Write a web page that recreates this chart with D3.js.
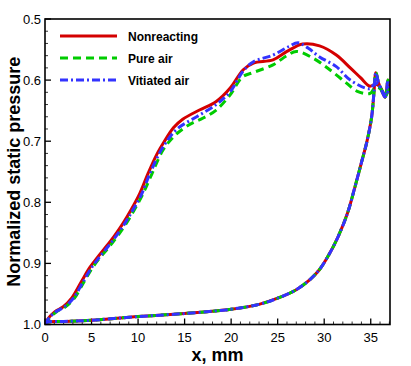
<!DOCTYPE html>
<html>
<head>
<meta charset="utf-8">
<script src="https://cdn.jsdelivr.net/npm/d3@7"></script>
<style>
  body { margin: 0; background: #fff; }
  text { font-family: "Liberation Sans", Arial, sans-serif; }
</style>
</head>
<body>
<div id="viz"></div>
<script>
var w = 411, h = 366;

// series: upper surface (x, p) from leading to trailing edge
var redUpper = [[0,1.0],[0.35,0.99],[1.07,0.979],[1.96,0.971],[2.86,0.957],[3.9,0.93],[4.8,0.907],[5.7,0.889],[6.6,0.872],[7.5,0.854],[8.4,0.834],[9.3,0.811],[10.2,0.785],[11.1,0.752],[12.0,0.722],[12.8,0.701],[13.8,0.678],[14.8,0.664],[16.6,0.649],[18.4,0.635],[19.9,0.613],[21.3,0.583],[22.4,0.572],[24.5,0.567],[26.0,0.553],[27.7,0.541],[29.5,0.544],[31.3,0.559],[32.8,0.580],[33.9,0.596],[34.9,0.610],[35.5,0.607],[36.0,0.611],[36.55,0.625],[37,0.61]];
var greenUpper = [[0,1.0],[0.45,0.99],[1.25,0.979],[2.2,0.971],[3.15,0.957],[4.2,0.93],[5.1,0.907],[6.0,0.889],[6.95,0.872],[7.85,0.854],[8.75,0.834],[9.65,0.811],[10.5,0.787],[11.5,0.753],[12.7,0.714],[14.0,0.69],[15.5,0.673],[17.0,0.662],[18.4,0.649],[19.9,0.624],[21.2,0.595],[22.3,0.588],[24.5,0.575],[26.0,0.56],[27.0,0.553],[28.8,0.564],[30.6,0.583],[32.4,0.605],[33.5,0.618],[34.9,0.622],[35.5,0.612],[36.1,0.615],[36.55,0.627],[37,0.61]];
var blueUpper = [[0,1.0],[0.4,0.99],[1.17,0.979],[2.1,0.971],[3.05,0.957],[4.1,0.93],[5.0,0.907],[5.9,0.889],[6.8,0.872],[7.7,0.854],[8.6,0.834],[9.5,0.811],[10.4,0.786],[11.3,0.752],[12.7,0.709],[14.2,0.68],[16.3,0.66],[18.4,0.64],[19.9,0.619],[21.3,0.585],[22.4,0.570],[24.5,0.559],[26.2,0.545],[27.2,0.539],[28.3,0.548],[29.5,0.562],[31.3,0.578],[32.8,0.600],[34.9,0.614],[35.5,0.605],[36.1,0.613],[36.55,0.627],[37,0.61]];
// lower surface, same for all three runs
var lower = [[0,1.0],[0.3,0.996],[2,0.995],[5,0.993],[10,0.987],[15,0.982],[20,0.975],[23,0.967],[25,0.957],[27,0.943],[28.5,0.926],[29.5,0.91],[30.5,0.886],[31.5,0.856],[32.5,0.818],[33.3,0.775],[34,0.735],[34.6,0.70],[35.1,0.66],[35.35,0.62],[35.55,0.588],[35.85,0.605],[36.2,0.618],[36.55,0.628],[36.85,0.600],[37,0.61]];

var names = ["Nonreacting", "Pure air", "Vitiated air"];
var xTicks = [0, 5, 10, 15, 20, 25, 30, 35];
var yTicks = [0.5, 0.6, 0.7, 0.8, 0.9, 1.0];

var series = [
  {name: names[0], upper: redUpper, color: "#d40000", dash: null},
  {name: names[1], upper: greenUpper, color: "#00cc00", dash: "8,5"},
  {name: names[2], upper: blueUpper, color: "#3333ff", dash: "8,3,2,3"}
];

var m = {left: 45, right: 390, top: 19, bottom: 324.5};

var x = d3.scaleLinear().domain([0, 37.07]).range([m.left, m.right]);
var y = d3.scaleLinear().domain([0.5, 1.0]).range([m.top, m.bottom]);

var svg = d3.select("#viz").append("svg")
    .attr("width", w)
    .attr("height", h);

svg.append("clipPath").attr("id", "clip")
  .append("rect")
    .attr("x", m.left).attr("y", m.top)
    .attr("width", m.right - m.left).attr("height", m.bottom - m.top);

// minor ticks
var xMinor = d3.range(0, 38, 1).filter(function(d) { return d % 5 !== 0; });
var yMinor = d3.range(0.52, 1.0, 0.02).filter(function(d) { return Math.abs(d * 10 - Math.round(d * 10)) > 0.01; });

var ticks = svg.append("g").attr("stroke", "#000");
ticks.selectAll(".xmaj").data(xTicks).enter().append("line")
    .attr("x1", x).attr("x2", x)
    .attr("y1", m.bottom).attr("y2", m.bottom - 6).attr("stroke-width", 1.3);
ticks.selectAll(".xmin").data(xMinor).enter().append("line")
    .attr("x1", x).attr("x2", x)
    .attr("y1", m.bottom).attr("y2", m.bottom - 3).attr("stroke-width", 0.8);
ticks.selectAll(".ymaj").data(yTicks).enter().append("line")
    .attr("y1", y).attr("y2", y)
    .attr("x1", m.left).attr("x2", m.left + 6).attr("stroke-width", 1.3);
ticks.selectAll(".ymin").data(yMinor).enter().append("line")
    .attr("y1", y).attr("y2", y)
    .attr("x1", m.left).attr("x2", m.left + 3).attr("stroke-width", 0.8);

var line = d3.line()
    .x(function(d) { return x(d[0]); })
    .y(function(d) { return y(d[1]); })
    .curve(d3.curveCatmullRom.alpha(0.5));

var curves = svg.append("g").attr("clip-path", "url(#clip)");
series.forEach(function(s) {
  [s.upper, lower].forEach(function(pts) {
    curves.append("path")
        .attr("d", line(pts))
        .attr("fill", "none")
        .attr("stroke", s.color)
        .attr("stroke-width", 3)
        .attr("stroke-dasharray", s.dash);
  });
});

// frame
svg.append("rect")
    .attr("x", m.left).attr("y", m.top)
    .attr("width", m.right - m.left).attr("height", m.bottom - m.top)
    .attr("fill", "none").attr("stroke", "#000").attr("stroke-width", 1.6);

// tick labels
svg.append("g").selectAll("text").data(xTicks).enter().append("text")
    .attr("x", x).attr("y", 342)
    .attr("text-anchor", "middle")
    .attr("font-size", 13)
    .text(function(d) { return d; });
svg.append("g").selectAll("text").data(yTicks).enter().append("text")
    .attr("x", 41).attr("y", function(d) { return y(d) + 4.5; })
    .attr("text-anchor", "end")
    .attr("font-size", 13)
    .text(function(d) { return d3.format(".1f")(d); });

// axis titles
svg.append("text")
    .attr("x", (m.left + m.right) / 2).attr("y", 361)
    .attr("text-anchor", "middle")
    .attr("font-size", 18).attr("font-weight", "bold")
    .text("x, mm");
svg.append("text")
    .attr("transform", "translate(20," + ((m.top + m.bottom) / 2) + ") rotate(-90)")
    .attr("text-anchor", "middle")
    .attr("font-size", 18).attr("font-weight", "bold")
    .text("Normalized static pressure");

// legend
var legend = svg.append("g").selectAll("g").data(series).enter().append("g")
    .attr("transform", function(d, i) { return "translate(60," + (36 + i * 22) + ")"; });
legend.append("line")
    .attr("x1", 0).attr("x2", 57)
    .attr("stroke", function(d) { return d.color; })
    .attr("stroke-width", 3)
    .attr("stroke-dasharray", function(d) { return d.dash; });
legend.append("text")
    .attr("x", 68).attr("y", 4.5)
    .attr("font-size", 12).attr("font-weight", "bold")
    .text(function(d) { return d.name; });
</script>
</body>
</html>
